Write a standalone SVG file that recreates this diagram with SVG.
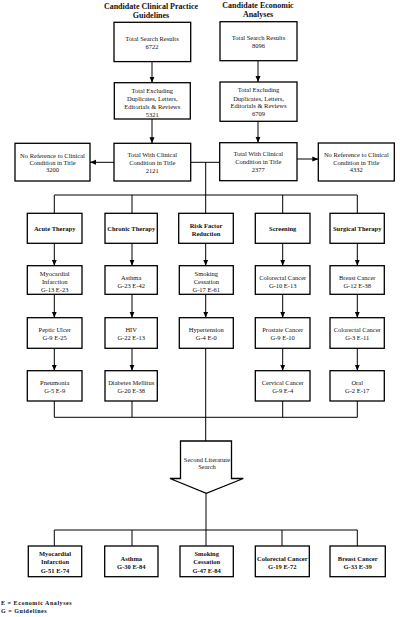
<svg xmlns="http://www.w3.org/2000/svg" width="400" height="617" viewBox="0 0 400 617">
<defs>
<marker id="ah" markerUnits="userSpaceOnUse" markerWidth="6" markerHeight="6" viewBox="0 0 6 6" refX="6" refY="3" orient="auto">
<path d="M0,0.5 L6,3 L0,5.5 Z" fill="#000"/>
</marker>
<style>
rect.b{fill:#fff;stroke:#000;stroke-width:1.3}
.ln{fill:none;stroke:#000;stroke-width:1}
.ar{fill:none;stroke:#000;stroke-width:1;marker-end:url(#ah)}
text{font-family:"Liberation Serif","Times New Roman",serif;font-size:6.5px;text-anchor:middle;fill:#111}
text.t{font-size:8px;font-weight:bold}
text.bd{font-weight:bold}
text.lg{font-size:6px;font-weight:bold;text-anchor:start;letter-spacing:0.55px}
</style>
</defs>
<rect width="400" height="617" fill="#fff"/>
<g id="titles">
<text class="t" x="151" y="8.5">Candidate Clinical Practice</text>
<text class="t" x="151" y="17.8">Guidelines</text>
<text class="t" x="258" y="7.5">Candidate Economic</text>
<text class="t" x="258" y="16.8">Analyses</text>
</g>
<g id="connectors">
<line class="ar" x1="152" y1="61.7" x2="152" y2="82.7"/>
<line class="ar" x1="258" y1="60.7" x2="258" y2="82"/>
<line class="ar" x1="152" y1="119" x2="152" y2="143.3"/>
<line class="ar" x1="258" y1="121.3" x2="258" y2="142.7"/>
<line class="ar" x1="114" y1="162.3" x2="90" y2="162.3"/>
<line class="ar" x1="297" y1="159" x2="318.3" y2="159"/>
<path class="ln" d="M190.7,162.3 H219.7 M205.7,162.3 V195 M54.3,195 H357.3 M54.3,195 V213.3 M132,195 V213.3 M205.7,195 V213.3 M282.7,195 V213.3 M357.3,195 V213.3"/>
<line class="ar" x1="54.3" y1="243.3" x2="54.3" y2="265.7"/>
<line class="ar" x1="132" y1="243.3" x2="132" y2="265.7"/>
<line class="ar" x1="205.7" y1="243.3" x2="205.7" y2="265.7"/>
<line class="ar" x1="282.7" y1="243.3" x2="282.7" y2="265.7"/>
<line class="ar" x1="357.3" y1="243.3" x2="357.3" y2="265.7"/>
<line class="ar" x1="54.3" y1="294.3" x2="54.3" y2="317.7"/>
<line class="ar" x1="132" y1="294.3" x2="132" y2="317.7"/>
<line class="ar" x1="205.7" y1="294.3" x2="205.7" y2="317.7"/>
<line class="ar" x1="282.7" y1="294.3" x2="282.7" y2="317.7"/>
<line class="ar" x1="357.3" y1="294.3" x2="357.3" y2="317.7"/>
<line class="ar" x1="54.3" y1="348.3" x2="54.3" y2="370.7"/>
<line class="ar" x1="132" y1="348.3" x2="132" y2="370.7"/>
<line class="ar" x1="282.7" y1="348.3" x2="282.7" y2="370.7"/>
<line class="ar" x1="357.3" y1="348.3" x2="357.3" y2="370.7"/>
<path class="ln" d="M54.3,401 V417.3 M132,401 V417.3 M282.7,401 V417.3 M357.3,401 V417.3 M54.3,417.3 H357.3 M205.7,348.3 V441"/>
<path class="ln" d="M206,493.3 V530 M54.3,530 H357.3 M54.3,530 V546 M132,530 V546 M206,530 V546 M282,530 V546 M357.3,530 V546"/>
</g>
<g id="n-srch-g"><rect class="b" x="114" y="22.3" width="76.7" height="39.3"/><text x="152" y="41">Total Search Results</text><text x="152" y="49">6722</text></g>
<g id="n-srch-e"><rect class="b" x="220" y="21.7" width="77" height="39"/><text x="258.5" y="40.3">Total Search Results</text><text x="258.5" y="48">8096</text></g>
<g id="n-excl-g"><rect class="b" x="114.3" y="82.7" width="76" height="36.3"/><text x="152.3" y="93">Total Excluding</text><text x="152.3" y="101.3">Duplicates, Letters,</text><text x="152.3" y="109">Editorials &amp; Reviews</text><text x="152.3" y="116.6">5321</text></g>
<g id="n-excl-e"><rect class="b" x="220" y="82" width="77" height="39.3"/><text x="258.5" y="92.3">Total Excluding</text><text x="258.5" y="101">Duplicates, Letters,</text><text x="258.5" y="108.3">Editorials &amp; Reviews</text><text x="258.5" y="116">6709</text></g>
<g id="n-cond-g"><rect class="b" x="114" y="143.3" width="76.7" height="37.7"/><text x="152.3" y="156.6">Total With Clinical</text><text x="152.3" y="165">Condition in Title</text><text x="152.3" y="173">2121</text></g>
<g id="n-cond-e"><rect class="b" x="219.7" y="142.7" width="77.3" height="38"/><text x="258.3" y="156.3">Total With Clinical</text><text x="258.3" y="164.3">Condition in Title</text><text x="258.3" y="172.3">2377</text></g>
<g id="n-noref-g"><rect class="b" x="15" y="143.3" width="75" height="37.7"/><text x="52.5" y="157.6">No Reference to Clinical</text><text x="52.5" y="165">Condition in Title</text><text x="52.5" y="172.3">3200</text></g>
<g id="n-noref-e"><rect class="b" x="318.3" y="143" width="76" height="38"/><text x="356.3" y="157.3">No Reference to Clinical</text><text x="356.3" y="164.7">Condition in Title</text><text x="356.3" y="172">4332</text></g>
<g id="c-acute"><rect class="b" x="27.3" y="213.3" width="54.7" height="30"/><text class="bd" x="54.7" y="231.3">Acute Therapy</text></g>
<g id="c-chronic"><rect class="b" x="105" y="213.3" width="52.3" height="30"/><text class="bd" x="131.2" y="231.3">Chronic Therapy</text></g>
<g id="c-risk"><rect class="b" x="178.7" y="213.3" width="54.6" height="30"/><text class="bd" x="206" y="227.6">Risk Factor</text><text class="bd" x="206" y="235.6">Reduction</text></g>
<g id="c-screen"><rect class="b" x="255.3" y="213.3" width="54.7" height="30"/><text class="bd" x="282.7" y="231.3">Screening</text></g>
<g id="c-surg"><rect class="b" x="330" y="213.3" width="54.3" height="30"/><text class="bd" x="357.2" y="231.3">Surgical Therapy</text></g>
<g id="r2-mi"><rect class="b" x="27.3" y="265.7" width="54.7" height="28.6"/><text x="54.7" y="275.6">Myocardial</text><text x="54.7" y="284">Infarction</text><text x="54.7" y="292.3">G-13 E-23</text></g>
<g id="r2-asthma"><rect class="b" x="105" y="265.7" width="52.3" height="28.6"/><text x="131.2" y="280">Asthma</text><text x="131.2" y="287.6">G-23 E-42</text></g>
<g id="r2-smoke"><rect class="b" x="179.3" y="265.7" width="54" height="28.6"/><text x="206.3" y="275.6">Smoking</text><text x="206.3" y="284">Cessation</text><text x="206.3" y="292.3">G-17 E-61</text></g>
<g id="r2-colo"><rect class="b" x="255.3" y="265.7" width="54.7" height="28.6"/><text x="282.7" y="280">Colorectal Cancer</text><text x="282.7" y="287.6">G-10 E-13</text></g>
<g id="r2-breast"><rect class="b" x="330" y="265.7" width="54.3" height="28.6"/><text x="357.2" y="280">Breast Cancer</text><text x="357.2" y="287.6">G-12 E-38</text></g>
<g id="r3-peptic"><rect class="b" x="27.3" y="317.7" width="54.7" height="30.6"/><text x="54.7" y="332.3">Peptic Ulcer</text><text x="54.7" y="340">G-9 E-25</text></g>
<g id="r3-hiv"><rect class="b" x="105" y="317.7" width="52.3" height="30.6"/><text x="131.2" y="332.3">HIV</text><text x="131.2" y="340">G-22 E-13</text></g>
<g id="r3-htn"><rect class="b" x="179.3" y="317.7" width="54" height="30.6"/><text x="206.3" y="332.3">Hypertension</text><text x="206.3" y="340">G-4 E-0</text></g>
<g id="r3-prostate"><rect class="b" x="255.3" y="317.7" width="54.7" height="30.6"/><text x="282.7" y="332.3">Prostate Cancer</text><text x="282.7" y="340">G-9 E-10</text></g>
<g id="r3-colo"><rect class="b" x="330" y="317.7" width="54.3" height="30.6"/><text x="357.2" y="332.3">Colorectal Cancer</text><text x="357.2" y="340">G-3 E-11</text></g>
<g id="r4-pneu"><rect class="b" x="27.3" y="370.7" width="54.7" height="30.3"/><text x="54.7" y="384.6">Pneumonia</text><text x="54.7" y="392.6">G-5 E-9</text></g>
<g id="r4-dm"><rect class="b" x="105" y="370.7" width="52.3" height="30.3"/><text x="131.2" y="384.6">Diabetes Mellitus</text><text x="131.2" y="392.6">G-20 E-38</text></g>
<g id="r4-cerv"><rect class="b" x="255.3" y="370.7" width="54.7" height="30.3"/><text x="282.7" y="384.6">Cervical Cancer</text><text x="282.7" y="392.6">G-9 E-4</text></g>
<g id="r4-oral"><rect class="b" x="330" y="370.7" width="54.3" height="30.3"/><text x="357.2" y="384.6">Oral</text><text x="357.2" y="392.6">G-2 E-17</text></g>
<g id="second-search"><polygon points="180.5,441 231.5,441 231.5,478.5 243.3,478.5 206.3,493.3 170,478.5 180.5,478.5" fill="#fff" stroke="#000" stroke-width="1.3"/><text x="207" y="461.5">Second Literature</text><text x="207" y="469">Search</text></g>
<g id="f-mi"><rect class="b" x="28.3" y="546" width="53.4" height="30.7"/><text class="bd" x="55" y="556.3">Myocardial</text><text class="bd" x="55" y="564.3">Infarction</text><text class="bd" x="55" y="572.6">G-51 E-74</text></g>
<g id="f-asthma"><rect class="b" x="104.7" y="546" width="53.3" height="30.7"/><text class="bd" x="131.3" y="560.6">Asthma</text><text class="bd" x="131.3" y="568.6">G-30 E-84</text></g>
<g id="f-smoke"><rect class="b" x="180" y="546" width="53.3" height="30.7"/><text class="bd" x="206.7" y="556.3">Smoking</text><text class="bd" x="206.7" y="564.3">Cessation</text><text class="bd" x="206.7" y="572.6">G-47 E-84</text></g>
<g id="f-colo"><rect class="b" x="255.3" y="546" width="54" height="30.7"/><text class="bd" x="282.3" y="560.6">Colorectal Cancer</text><text class="bd" x="282.3" y="568.6">G-19 E-72</text></g>
<g id="f-breast"><rect class="b" x="330" y="546" width="55.3" height="30.7"/><text class="bd" x="357.7" y="560.6">Breast Cancer</text><text class="bd" x="357.7" y="568.6">G-33 E-39</text></g>
<g id="legend">
<text class="lg" x="1" y="605">E = Economic Analyses</text>
<text class="lg" x="1" y="612.5">G = Guidelines</text>
</g>
</svg>
